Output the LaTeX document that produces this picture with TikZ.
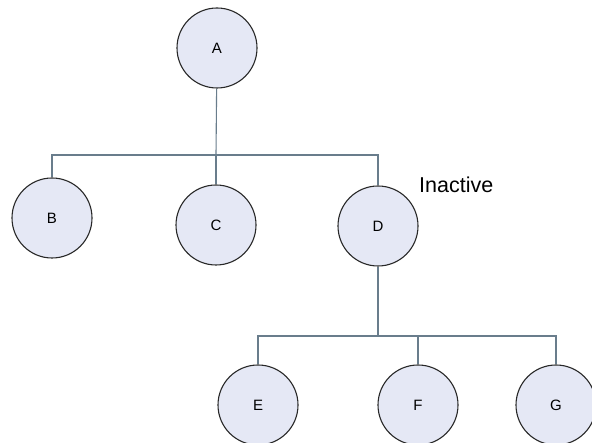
\documentclass[tikz,border=0pt]{standalone}
\usepackage{fontspec}
\setmainfont{Liberation Sans}
\definecolor{nodefill}{RGB}{229,232,245}
\definecolor{linecol}{RGB}{105,125,140}
\definecolor{circcol}{RGB}{40,40,40}
\begin{document}
\begin{tikzpicture}[x=1pt,y=-1pt,
  treenode/.style={circle,draw=circcol,line width=1.1pt,fill=nodefill,minimum size=80pt,inner sep=0pt,font=\fontsize{15}{18}\selectfont},
  conn/.style={draw=linecol,line width=1.1pt}]
\fill[white] (0,0) rectangle (592,443);
\useasboundingbox (0,0) rectangle (592,443);
\clip (0,0) rectangle (592,443);
\node[treenode] (A) at (217,48) {A};
\node[treenode] (B) at (52,218) {B};
\node[treenode] (C) at (216,225) {C};
\node[treenode] (D) at (378,226) {D};
\node[treenode] (E) at (258,405) {E};
\node[treenode] (F) at (418,405) {F};
\node[treenode] (G) at (556,405) {G};
\node[anchor=west,inner sep=0pt,font=\fontsize{21.5}{24}\selectfont] (lbl) at (419,185) {Inactive};
\coordinate (j1) at (216,155);
\coordinate (j2) at (378,336);
\draw[conn] (A) -- (j1);
\draw[conn] (j1) -| (B);
\draw[conn] (j1) -- (C);
\draw[conn] (j1) -| (D);
\draw[conn] (D) -- (j2);
\draw[conn] (j2) -| (E);
\draw[conn] (j2) -| (F);
\draw[conn] (j2) -| (G);
\end{tikzpicture}
\end{document}
